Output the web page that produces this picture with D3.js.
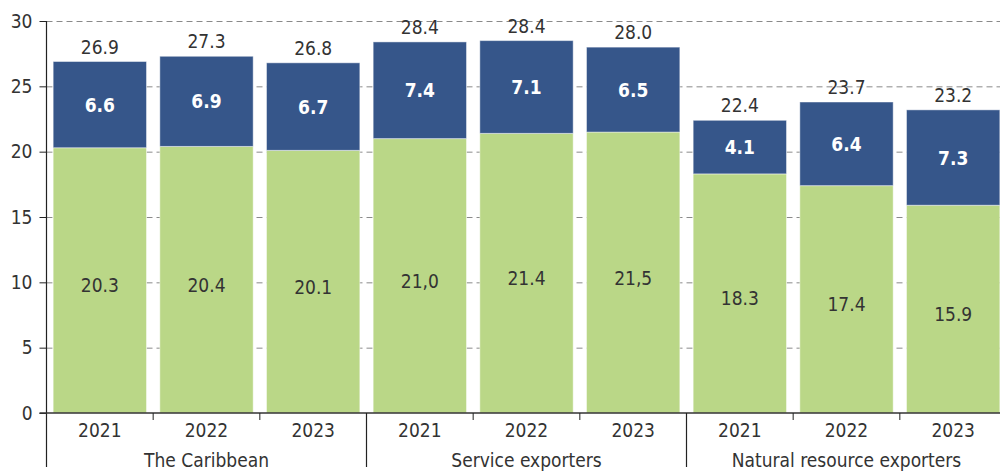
<!DOCTYPE html>
<html><head><meta charset="utf-8">
<script src="https://cdn.jsdelivr.net/npm/d3@7"></script>
<style>
html,body{margin:0;padding:0;background:#fff;}
svg text{font-family:"DejaVu Sans Condensed","Roboto",sans-serif;}
</style></head>
<body><svg id="c" width="1000" height="471"></svg>
<script>
const groups = ["The Caribbean","Service exporters","Natural resource exporters"];
const years = ["2021","2022","2023"];
const greenVals = [20.3,20.4,20.1,21.0,21.4,21.5,18.3,17.4,15.9];
const greenLabels = ["20.3","20.4","20.1","21,0","21.4","21,5","18.3","17.4","15.9"];
const blueVals = [6.6,6.9,6.7,7.4,7.1,6.5,4.1,6.4,7.3];
const totalVals = [26.9,27.3,26.8,28.4,28.4,28.0,22.4,23.7,23.2];
const yTicks = [0,5,10,15,20,25,30];

(function(){
const svg = d3.select("#c");
const pLeft = 46.5, pRight = 1006.5, pTop = 21, pBottom = 413;
const keys = d3.range(9);
const x = d3.scaleBand().domain(keys).range([pLeft,pRight]).paddingInner(0.125).paddingOuter(0.0625);
const y = d3.scaleLinear().domain([0,30]).range([pBottom,pTop]);
const slot = x.step();
const fs = 19;

// gridlines
svg.append("g").selectAll("line").data(yTicks.filter(d=>d>0)).join("line")
  .attr("x1",pLeft).attr("x2",1000).attr("y1",d=>y(d)+0.5).attr("y2",d=>y(d)+0.5)
  .attr("stroke","#8a8a8a").attr("stroke-width",1).attr("stroke-dasharray","6,4");

// bars
const greenC = "#bad787", blueC = "#36568a";
const g = svg.append("g");
g.selectAll("rect.g").data(keys).join("rect").attr("class","g")
  .attr("x",i=>x(i)).attr("width",x.bandwidth())
  .attr("y",i=>y(greenVals[i])).attr("height",i=>y(0)-y(greenVals[i]))
  .attr("fill",greenC).attr("stroke","rgba(255,255,255,0.45)").attr("stroke-width",1);
g.selectAll("rect.b").data(keys).join("rect").attr("class","b")
  .attr("x",i=>x(i)).attr("width",x.bandwidth())
  .attr("y",i=>y(greenVals[i]+blueVals[i])).attr("height",i=>y(greenVals[i])-y(greenVals[i]+blueVals[i]))
  .attr("fill",blueC).attr("stroke","rgba(255,255,255,0.45)").attr("stroke-width",1);

// labels
g.selectAll("text.t").data(keys).join("text").attr("class","t")
  .attr("x",i=>x(i)+x.bandwidth()/2).attr("y",i=>y(greenVals[i]+blueVals[i])-8)
  .attr("text-anchor","middle").attr("font-size",fs).attr("fill","#333")
  .text(i=>totalVals[i].toFixed(1));
g.selectAll("text.bl").data(keys).join("text").attr("class","bl")
  .attr("x",i=>x(i)+x.bandwidth()/2)
  .attr("y",i=>(y(greenVals[i])+y(greenVals[i]+blueVals[i]))/2+7)
  .attr("text-anchor","middle").attr("font-size",fs).attr("font-weight","bold").attr("fill","#fff")
  .text(i=>blueVals[i].toFixed(1));
g.selectAll("text.gl").data(keys).join("text").attr("class","gl")
  .attr("x",i=>x(i)+x.bandwidth()/2)
  .attr("y",i=>(y(0)+y(greenVals[i]))/2+12)
  .attr("text-anchor","middle").attr("font-size",fs).attr("fill","#333")
  .text(i=>greenLabels[i]);

// y axis
const yAxis = svg.append("g").attr("transform",`translate(${pLeft},0)`)
  .call(d3.axisLeft(y).tickValues(yTicks).tickSize(7).tickPadding(7));
yAxis.select(".domain").remove();
yAxis.selectAll("line").attr("stroke","#222");
yAxis.selectAll("text").attr("font-size",fs).attr("fill","#333").attr("font-family","'DejaVu Sans Condensed',sans-serif");
svg.append("line").attr("x1",pLeft).attr("x2",pLeft).attr("y1",pTop).attr("y2",467).attr("stroke","#222").attr("stroke-width",1.2);

// zero line
svg.append("line").attr("x1",pLeft-7).attr("x2",1000).attr("y1",y(0)).attr("y2",y(0)).attr("stroke","#333").attr("stroke-width",1.5);

// x axis: years
const xa = svg.append("g");
xa.selectAll("text.yr").data(keys).join("text").attr("class","yr")
  .attr("x",i=>x(i)+x.bandwidth()/2).attr("y",437)
  .attr("text-anchor","middle").attr("font-size",fs).attr("fill","#333")
  .text(i=>years[i%3]);
xa.selectAll("line.mt").data(keys.filter(i=>i%3!==0)).join("line").attr("class","mt")
  .attr("x1",i=>pLeft+i*slot).attr("x2",i=>pLeft+i*slot).attr("y1",pBottom).attr("y2",pBottom+7)
  .attr("stroke","#222");
xa.selectAll("line.gs").data([3,6]).join("line").attr("class","gs")
  .attr("x1",i=>pLeft+i*slot).attr("x2",i=>pLeft+i*slot).attr("y1",pBottom).attr("y2",467)
  .attr("stroke","#222").attr("stroke-width",1.2);
xa.selectAll("text.gr").data(groups).join("text").attr("class","gr")
  .attr("x",(d,j)=>pLeft+(j*3+1.5)*slot).attr("y",467)
  .attr("text-anchor","middle").attr("font-size",fs).attr("fill","#333")
  .text(d=>d);
})();
</script></body></html>
